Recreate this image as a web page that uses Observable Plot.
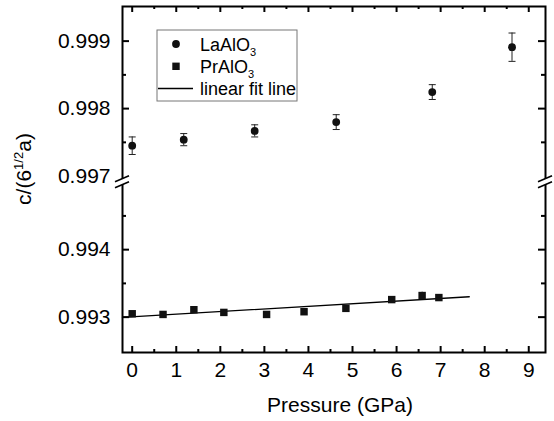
<!DOCTYPE html>
<html><head><meta charset="utf-8">
<script src="https://cdn.jsdelivr.net/npm/d3@7"></script>
<script src="https://cdn.jsdelivr.net/npm/@observablehq/plot@0.6"></script>
<style>body{margin:0;background:#fff} svg{display:block}</style>
</head><body><div id="chart"></div>
<script>
// LaAlO3 (circles, with error bars)
const laP = [0.0, 1.17, 2.78, 4.63, 6.81, 8.62];
const laC = [0.99745, 0.99754, 0.99767, 0.99780, 0.998245, 0.99891];
const laErr = [0.00013, 0.00009, 0.00009, 0.00011, 0.00011, 0.00021];
// PrAlO3 (squares)
const prP = [0.0, 0.70, 1.40, 2.08, 3.05, 3.90, 4.85, 5.89, 6.58, 6.96];
const prC = [0.99305, 0.99304, 0.99311, 0.99307, 0.99304, 0.99308, 0.99313, 0.99326, 0.99332, 0.99329];
const prErr = [0.00002, 0.00002, 0.00002, 0.00002, 0.00002, 0.00002, 0.00002, 0.00002, 0.00005, 0.00002];
// linear fit line end points
const fitP = [-0.22, 7.65];
const fitC = [0.992997, 0.993302];
// ticks
const xMajor = [0, 1, 2, 3, 4, 5, 6, 7, 8, 9];
const xMinor = [0.5, 1.5, 2.5, 3.5, 4.5, 5.5, 6.5, 7.5, 8.5];
const yLabels = [0.993, 0.994, 0.997, 0.998, 0.999];
const yMajorTicks = [0.993, 0.994, 0.998, 0.999];
const yMinorTicks = [0.9935, 0.9945, 0.9975, 0.9985];
// axis domains; y axis broken between yBreak[0] and yBreak[1]
const xDomain = [-0.22, 9.38];
const yDomain = [0.992476, 0.999513];
const yBreak = [0.995, 0.99691];
const legendItems = [
  {label: "LaAlO", sub: "3", kind: "circle"},
  {label: "PrAlO", sub: "3", kind: "square"},
  {label: "linear fit line", sub: "", kind: "line"}
];

const la = laP.map((p, i) => ({p, c: laC[i], lo: laC[i] - laErr[i], hi: laC[i] + laErr[i]}));
const pr = prP.map((p, i) => ({p, c: prC[i], lo: prC[i] - prErr[i], hi: prC[i] + prErr[i]}));
const fit = fitP.map((p, i) => ({p, c: fitC[i]}));

const W = 554, H = 421, mt = 6, mr = 9, mb = 69, ml = 122;
const fw = W - ml - mr, fh = H - mt - mb;
const gap = yBreak[1] - yBreak[0];
const yT = v => (v > (yBreak[0] + yBreak[1]) / 2 ? v - gap : v);
const fmt3 = d3.format(".3f");

const capSymbol = {draw(ctx, size) { const w = Math.sqrt(size / Math.PI); ctx.moveTo(-w, 0); ctx.lineTo(w, 0); }};

function decorations(index, scales, values, dims) {
  const g = d3.create("svg:g");
  const x0 = scales.x(xDomain[0]), x1 = scales.x(xDomain[1]);
  const yb = scales.y(yBreak[0]);
  for (const xa of [x0, x1]) {
    g.append("path")
      .attr("d", `M${xa-7},${yb}L${xa+7},${yb-6}L${xa+7},${yb}L${xa-7},${yb+6}Z`)
      .attr("fill", "white").attr("stroke", "none");
    g.append("path")
      .attr("d", `M${xa-7},${yb}L${xa+7},${yb-6}M${xa-7},${yb+6}L${xa+7},${yb}`)
      .attr("fill", "none").attr("stroke", "black").attr("stroke-width", 1.6);
  }
  // y title
  const yt = g.append("text")
    .attr("transform", `translate(${dims.marginLeft - 91},${dims.marginTop + 163}) rotate(-90)`)
    .attr("text-anchor", "middle").attr("font-size", 21).attr("fill", "black");
  yt.append("tspan").text("c/(6");
  yt.append("tspan").attr("font-size", 13).attr("dy", -8).text("1/2");
  yt.append("tspan").attr("dy", 8).text("a)");
  // x title
  g.append("text")
    .attr("x", dims.marginLeft + 218).attr("y", dims.height - 9)
    .attr("text-anchor", "middle").attr("font-size", 21).attr("fill", "black")
    .text("Pressure (GPa)");
  // legend
  const lx = dims.marginLeft + 35, ly = dims.marginTop + 24;
  g.append("rect").attr("x", lx).attr("y", ly).attr("width", 140).attr("height", 71)
    .attr("fill", "white").attr("stroke", "#777").attr("stroke-width", 1);
  legendItems.forEach((it, i) => {
    const cy = ly + 14 + i * 22.3;
    if (it.kind === "circle") g.append("circle").attr("cx", lx + 19).attr("cy", cy).attr("r", 3.9).attr("fill", "#111");
    if (it.kind === "square") g.append("rect").attr("x", lx + 15.3).attr("y", cy - 3.7).attr("width", 7.4).attr("height", 7.4).attr("fill", "#111");
    if (it.kind === "line") g.append("line").attr("x1", lx + 1).attr("x2", lx + 36).attr("y1", cy).attr("y2", cy).attr("stroke", "black").attr("stroke-width", 1.5);
    const t = g.append("text").attr("x", lx + 43).attr("y", cy + 6.5).attr("font-size", 18)
      .attr("fill", "black").attr("text-anchor", "start");
    t.append("tspan").attr("fill", "black").text(it.label);
    if (it.sub) t.append("tspan").attr("fill", "black").attr("font-size", 11).attr("dy", 5).text(it.sub);
  });
  return g.node();
}

const chart = Plot.plot({
  width: W, height: H,
  marginTop: mt, marginRight: mr, marginBottom: mb, marginLeft: ml,
  style: {fontFamily: "'Liberation Sans', Arial, sans-serif", fontSize: "21px", color: "black", background: "white"},
  x: {domain: xDomain},
  y: {domain: yDomain.map(yT), transform: yT, axis: null},
  marks: [
    Plot.tickX(xMajor, {x: d => d, insetTop: fh - 6, strokeWidth: 2}),
    Plot.tickX(xMajor, {x: d => d, insetBottom: fh - 6, strokeWidth: 2}),
    Plot.tickX(xMinor, {x: d => d, insetTop: fh - 3, strokeWidth: 2}),
    Plot.tickX(xMinor, {x: d => d, insetBottom: fh - 3, strokeWidth: 2}),
    Plot.tickY(yMajorTicks, {y: d => d, insetRight: fw - 7, strokeWidth: 2}),
    Plot.tickY(yMajorTicks, {y: d => d, insetLeft: fw - 7, strokeWidth: 2}),
    Plot.tickY(yMinorTicks, {y: d => d, insetRight: fw - 4, strokeWidth: 2}),
    Plot.tickY(yMinorTicks, {y: d => d, insetLeft: fw - 4, strokeWidth: 2}),
    Plot.frame({stroke: "black", strokeWidth: 2}),
    Plot.axisX({ticks: xMajor, tickSize: 0, tickPadding: 10, fontSize: 21, label: null, tickFormat: d => String(d)}),
    Plot.text(yLabels, {y: d => d, text: d => fmt3(d), frameAnchor: "left", textAnchor: "end", dx: -12, fontSize: 21, fill: "black"}),
    Plot.line(fit, {x: "p", y: "c", stroke: "black", strokeWidth: 1.3}),
    Plot.ruleX(la, {x: "p", y1: "lo", y2: "hi", stroke: "#222", strokeWidth: 1}),
    Plot.dot(la, {x: "p", y: "lo", symbol: capSymbol, r: 3.5, stroke: "#222", strokeWidth: 1}),
    Plot.dot(la, {x: "p", y: "hi", symbol: capSymbol, r: 3.5, stroke: "#222", strokeWidth: 1}),
    Plot.ruleX(pr, {x: "p", y1: "lo", y2: "hi", stroke: "#222", strokeWidth: 1}),
    Plot.dot(la, {x: "p", y: "c", r: 3.9, fill: "#111", stroke: "none"}),
    Plot.dot(pr, {x: "p", y: "c", symbol: "square", r: 4.2, fill: "#111", stroke: "none"}),
    decorations
  ]
});
document.getElementById("chart").appendChild(chart);
</script>
</body></html>
